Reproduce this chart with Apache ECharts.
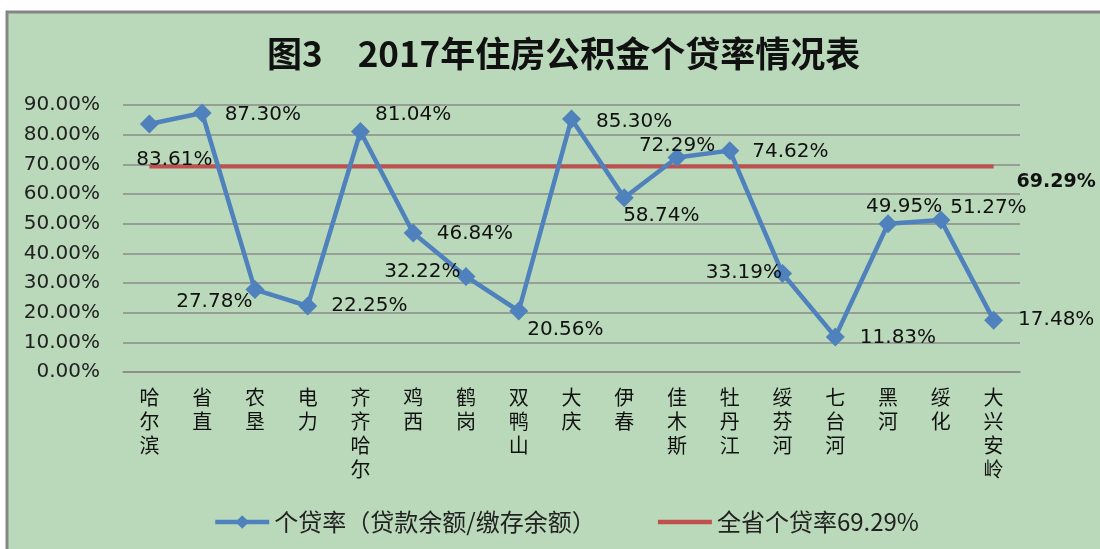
<!DOCTYPE html>
<html>
<head>
<meta charset="utf-8">
<script src="https://cdn.jsdelivr.net/npm/echarts@6/dist/echarts.min.js"></script>
<style>
html,body{margin:0;padding:0;background:#fff;}
#main{width:1100px;height:549px;}
</style>
</head>
<body>
<div id="main"></div>
<script>
var titleText = '图3\u30002017年住房公积金个贷率情况表';
var categories = ['哈尔滨','省直','农垦','电力','齐齐哈尔','鸡西','鹤岗','双鸭山','大庆','伊春','佳木斯','牡丹江','绥芬河','七台河','黑河','绥化','大兴安岭'];
var loanRates = [83.61, 87.30, 27.78, 22.25, 81.04, 46.84, 32.22, 20.56, 85.30, 58.74, 72.29, 74.62, 33.19, 11.83, 49.95, 51.27, 17.48];
var provinceRate = 69.29;
var seriesNames = ['个贷率（贷款余额/缴存余额）', '全省个贷率69.29%'];
var yTicks = {min: 0, max: 90, interval: 10};

// label placement (style only)
var labelPlace = [
  ['bottom', [25, 11]], ['right', [8, 2]], ['left', [12, 12]], ['right', [9, 0]],
  ['right', [0, -17]], ['right', [9, 1]], ['left', [9, -5]], ['right', [-6, 19]],
  ['right', [10, 3]], ['bottom', [37, -6]], ['top', [0, 13]], ['right', [8, 1]],
  ['left', [14, -1]], ['right', [10, 1]], ['top', [16, 7]], ['right', [-5, -12]],
  ['right', [10, 0]]
];

var labelFont = {fontFamily: 'DejaVu Sans', fontSize: 20, color: '#111'};

var blueData = loanRates.map(function (v, i) {
  return {
    value: v,
    label: Object.assign({
      show: true,
      position: labelPlace[i][0],
      offset: labelPlace[i][1],
      formatter: function (p) { return p.value.toFixed(2) + '%'; }
    }, labelFont)
  };
});

var redData = categories.map(function () { return provinceRate; });

var chart = echarts.init(document.getElementById('main'));
chart.setOption({
  backgroundColor: '#fff',
  animation: false,
  graphic: [{
    type: 'rect',
    z: -100,
    silent: true,
    shape: {x: 7, y: 12, width: 1110, height: 560},
    style: {fill: '#BAD9BA', stroke: '#858585', lineWidth: 3}
  }],
  title: {
    text: titleText,
    left: 262,
    top: 31,
    textStyle: {fontFamily: 'Noto Sans CJK SC', fontWeight: 'bold', fontSize: 35, color: '#111'}
  },
  legend: {
    left: 208,
    top: 505,
    itemWidth: 54,
    itemHeight: 17,
    itemGap: 60,
    textStyle: {fontFamily: 'Noto Sans CJK SC', fontSize: 24, color: '#222'},
    data: [
      {name: seriesNames[0], lineStyle: {width: 4.5}},
      {name: seriesNames[1], lineStyle: {width: 4.5}, itemStyle: {opacity: 0}}
    ]
  },
  grid: {left: 123, right: 80, top: 105, bottom: 177, containLabel: false},
  xAxis: {
    type: 'category',
    data: categories,
    boundaryGap: true,
    axisLine: {show: true, lineStyle: {color: '#8a8a8a', width: 1.5}},
    axisTick: {show: false},
    axisLabel: {
      interval: 0,
      margin: 13,
      fontFamily: 'Noto Sans CJK SC',
      fontSize: 20,
      lineHeight: 24,
      color: '#111',
      verticalAlign: 'top',
      formatter: function (v) { return v.split('').join('\n'); }
    }
  },
  yAxis: {
    type: 'value',
    min: yTicks.min,
    max: yTicks.max,
    interval: yTicks.interval,
    axisLine: {show: false},
    axisTick: {show: false},
    splitLine: {lineStyle: {color: '#8a8a8a', width: 1.5}},
    axisLabel: {
      margin: 23,
      fontFamily: 'DejaVu Sans',
      fontSize: 20,
      color: '#222',
      formatter: function (v) { return v.toFixed(2) + '%'; }
    }
  },
  series: [
    {
      name: seriesNames[0],
      type: 'line',
      data: blueData,
      symbol: 'diamond',
      symbolSize: 19,
      lineStyle: {color: '#4F81BD', width: 4.5},
      itemStyle: {color: '#4F81BD'},
      z: 3
    },
    {
      name: seriesNames[1],
      type: 'line',
      data: redData,
      symbol: 'none',
      lineStyle: {color: '#C0504D', width: 4},
      itemStyle: {color: '#C0504D'},
      z: 2,
      endLabel: {
        show: true,
        distance: 23,
        offset: [0, 16],
        formatter: function (p) { return provinceRate.toFixed(2) + '%'; },
        fontFamily: 'DejaVu Sans',
        fontWeight: 'bold',
        fontSize: 19,
        color: '#111'
      }
    }
  ]
});
</script>
</body>
</html>
